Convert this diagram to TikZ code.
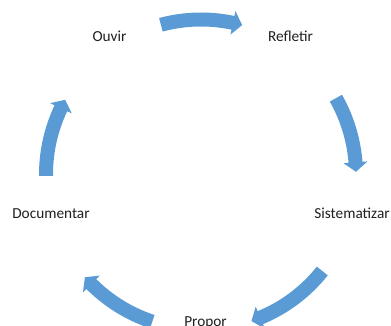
\documentclass[tikz,border=0pt]{standalone}
\usepackage{fontspec}
\setmainfont{Carlito}
\definecolor{arrowblue}{HTML}{5B9BD5}
\newcommand\cycarrow[2]{%
  \pgfmathsetmacro\hb{#2+3.5}%
  \fill[cycfill] (#1:162pt) arc[start angle=#1, end angle=\hb, radius=162pt]
    -- (\hb:167pt) -- (#2:155pt) -- (\hb:143pt) -- (\hb:148pt)
    arc[start angle=\hb, end angle=#1, radius=148pt] -- cycle;}
\begin{document}
\begin{tikzpicture}[x=1pt,y=1pt,
  cycfill/.style={fill=arrowblue},
  lbl/.style={font=\fontsize{15.3}{18}\selectfont, text=black!88, anchor=base, inner sep=0pt}]
\useasboundingbox (0,0) rectangle (391,326);
\clip (0,0) rectangle (391,326);
\begin{scope}[shift={(201,151.5)}]
  \cycarrow{105}{74.6}
  \cycarrow{29.5}{1}
  \cycarrow{-38.5}{-71}
  \cycarrow{-108.3}{-138.5}
  \cycarrow{180.5}{151.2}
\end{scope}
\node[lbl] (ouvir) at (109.5,284) {Ouvir};
\node[lbl] (refletir) at (290.5,284) {Refletir};
\node[lbl] (sistematizar) at (352,107) {Sistematizar};
\node[lbl] (propor) at (205.5,-0.5) {Propor};
\node[lbl] (documentar) at (51,107) {Documentar};
\end{tikzpicture}
\end{document}
